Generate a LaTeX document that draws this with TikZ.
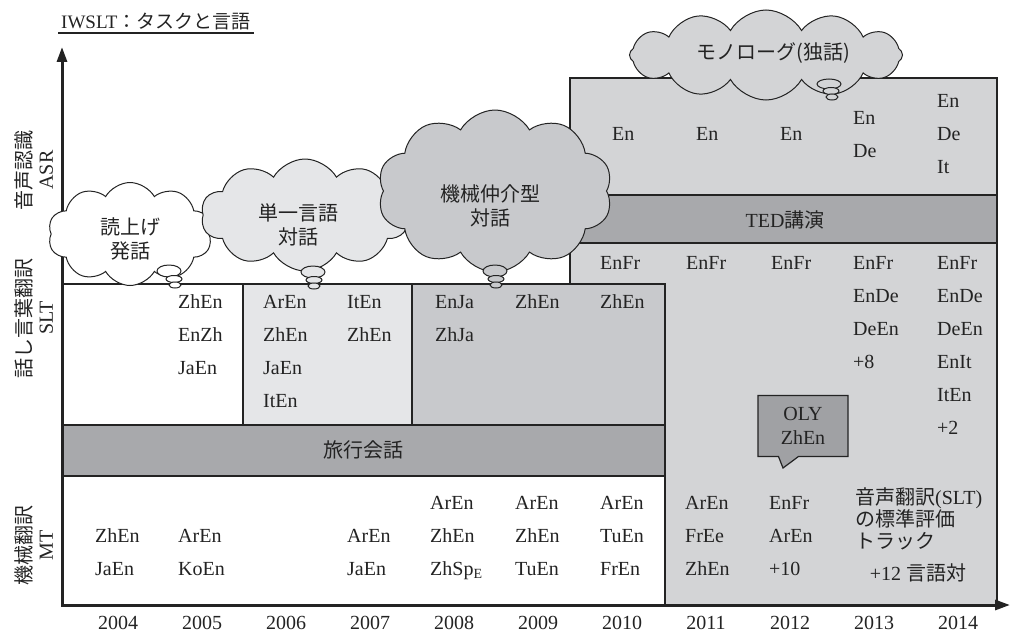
\documentclass[tikz,border=0pt]{standalone}
\usepackage{fontspec}
\setmainfont{Liberation Serif}
\newfontfamily\jp{Noto Sans CJK JP}
\usetikzlibrary{arrows.meta,shapes.symbols,shapes.callouts,positioning}
\definecolor{ink}{RGB}{35,35,35}
\definecolor{boxlight}{RGB}{229,230,232}
\definecolor{boxgray}{RGB}{211,212,214}
\definecolor{boxmid}{RGB}{200,201,204}
\definecolor{banddark}{RGB}{168,169,172}
\definecolor{calloutgray}{RGB}{160,161,164}

% one column of language pairs, 33pt apart
\newcommand{\langcol}[4]{%
  \foreach \lbl [count=\k] in {#4}{
    \node[lang] (#1-\k) at (#2,{#3+33*(\k-1)}) {\lbl};
  }}

\begin{document}
\begin{tikzpicture}[x=1pt,y=-1pt,
  lang/.style={font=\fontsize{20}{24}\selectfont,text=ink,anchor=mid west,inner sep=0pt},
  jtext/.style={font=\fontsize{20}{24}\jp,text=ink,inner sep=0pt,align=center},
  year/.style={font=\fontsize{20}{24}\selectfont,text=ink,inner sep=0pt},
  axislabel/.style={rotate=90,align=center,font=\fontsize{20}{21}\selectfont,text=ink,inner sep=0pt},
  area/.style={draw=ink,line width=1.5pt},
  talk/.style={cloud,cloud puffs=10,cloud puff arc=120,cloud ignores aspect,
               draw=ink,line width=1pt,inner sep=0pt},
  puff/.style={draw=ink,line width=1pt},
  axis/.style={line width=3pt,draw=ink,line join=miter,
               {Triangle[length=15pt,width=10pt]}-{Triangle[length=15pt,width=10pt]}},
]
\useasboundingbox (0,0) rectangle (1011,634);

% TED block (ASR + SLT)
\draw[area,fill=boxgray] (570,78) rectangle (997,605);
\draw[area,fill=banddark] (570,195) rectangle (997,243);
% BTEC blocks
\draw[area,fill=white] (62,284) rectangle (243,425);
\draw[area,fill=boxlight] (243,284) rectangle (412,425);
\draw[area,fill=boxmid,line width=2.5pt] (412,284) rectangle (665,425);
\draw[area,fill=banddark] (62,425) rectangle (665,476);
\draw[area,fill=white] (62,476) rectangle (665,605);

% axes
\coordinate (origin) at (62,605);
\coordinate (ytip) at (62,47);
\coordinate (xtip) at (1010,605);
\draw[axis] (ytip) -- (origin) -- (xtip);

% title
\node[font=\fontsize{19}{22}\selectfont,text=ink,anchor=south west,
      minimum width=195pt,inner sep=3pt] (title) at (58,33) {IWSLT{\jp ：タスクと言語}};
\draw[ink,line width=1.5pt] (title.south west) -- (title.south east);

% row labels
\node[axislabel] (asrlab) at (34,170) {{\jp 音声認識}\\ASR};
\node[axislabel] (sltlab) at (34,318) {{\jp 話し言葉翻訳}\\SLT};
\node[axislabel] (mtlab) at (34,545) {{\jp 機械翻訳}\\MT};

% speech style clouds
\node[talk,fill=white,minimum width=164pt,minimum height=103pt] (read) at (130,234) {};
\draw[puff,fill=white] (169,271) ellipse [x radius=12pt,y radius=6pt];
\draw[puff,fill=white] (174,279) ellipse [x radius=8pt,y radius=3.5pt];
\draw[puff,fill=white] (175,285) ellipse [x radius=6pt,y radius=3pt];
\node[jtext] (readtxt) at (130,239) {読上げ\\発話};

\node[talk,fill=boxlight,minimum width=208pt,minimum height=112pt] (dialog) at (305,215) {};
\draw[puff,fill=boxlight] (313,272) ellipse [x radius=12pt,y radius=6pt];
\draw[puff,fill=boxlight] (314,280) ellipse [x radius=8pt,y radius=3.5pt];
\draw[puff,fill=boxlight] (314,286) ellipse [x radius=6pt,y radius=3pt];
\node[jtext] (dialogtxt) at (298,225) {単一言語\\対話};

\node[talk,fill=boxmid,minimum width=235pt,minimum height=162pt] (mediated) at (495,191) {};
\draw[puff,fill=boxmid] (495,271) ellipse [x radius=12pt,y radius=6pt];
\draw[puff,fill=boxmid] (496,279) ellipse [x radius=8pt,y radius=3.5pt];
\draw[puff,fill=boxmid] (496,285) ellipse [x radius=6pt,y radius=3pt];
\node[jtext] (mediatedtxt) at (490,206) {機械仲介型\\対話};

\node[talk,cloud puffs=12,fill=boxgray,minimum width=273pt,minimum height=90pt] (monologue) at (766,55) {};
\draw[puff,fill=boxgray] (829,84) ellipse [x radius=12pt,y radius=5pt];
\draw[puff,fill=boxgray] (831,91) ellipse [x radius=8pt,y radius=3.5pt];
\draw[puff,fill=boxgray] (832,97) ellipse [x radius=6pt,y radius=3pt];
\node[jtext] (monologuetxt) at (773,53) {モノローグ(独話)};

% band titles
\node[year] (ted) at (785,220) {TED{\jp 講演}};
\node[jtext] (btec) at (363,450) {旅行会話};

% OLY callout
\node[rectangle callout,draw=ink,line width=1.2pt,fill=calloutgray,
      minimum width=90pt,minimum height=61pt,callout pointer width=20pt,
      callout absolute pointer={(783,468)},align=center,
      font=\fontsize{20}{24}\selectfont,text=ink,inner sep=0pt] (oly) at (803,426) {OLY\\ZhEn};

% ASR
\langcol{asr10}{612}{138}{En}
\langcol{asr11}{696}{138}{En}
\langcol{asr12}{780}{138}{En}
\langcol{asr13}{853}{122}{En,De}
\langcol{asr14}{937}{105}{En,De,It}
% SLT, TED talks
\langcol{ted10}{600}{267}{EnFr}
\langcol{ted11}{686}{267}{EnFr}
\langcol{ted12}{771}{267}{EnFr}
\langcol{ted13}{853}{267}{EnFr,EnDe,DeEn,+8}
\langcol{ted14}{937}{267}{EnFr,EnDe,DeEn,EnIt,ItEn,+2}
% SLT, BTEC
\langcol{slt05}{178}{306}{ZhEn,EnZh,JaEn}
\langcol{slt06}{263}{306}{ArEn,ZhEn,JaEn,ItEn}
\langcol{slt07}{347}{306}{ItEn,ZhEn}
\langcol{slt08}{435}{306}{EnJa,ZhJa}
\langcol{slt09}{515}{306}{ZhEn}
\langcol{slt10}{600}{306}{ZhEn}
% MT
\langcol{mt04}{95}{540}{ZhEn,JaEn}
\langcol{mt05}{178}{540}{ArEn,KoEn}
\langcol{mt07}{347}{540}{ArEn,JaEn}
\langcol{mt08}{430}{507}{ArEn,ZhEn,ZhSp\textsubscript{E}}
\langcol{mt09}{515}{507}{ArEn,ZhEn,TuEn}
\langcol{mt10}{600}{507}{ArEn,TuEn,FrEn}
\langcol{mt11}{685}{507}{ArEn,FrEe,ZhEn}
\langcol{mt12}{769}{507}{EnFr,ArEn,+10}
\node[lang,align=left,font=\fontsize{20}{22}\jp,anchor=north west] (track) at (855,487)
  {音声翻訳{\rmfamily (SLT)}\\の標準評価\\トラック};
\node[year] (pairs) at (918,573) {+12 {\jp 言語対}};

% years
\foreach \yr [count=\k from 0] in {2004,...,2014}
  \node[year] (y\yr) at (118+84*\k,623) {\yr};
\end{tikzpicture}
\end{document}
